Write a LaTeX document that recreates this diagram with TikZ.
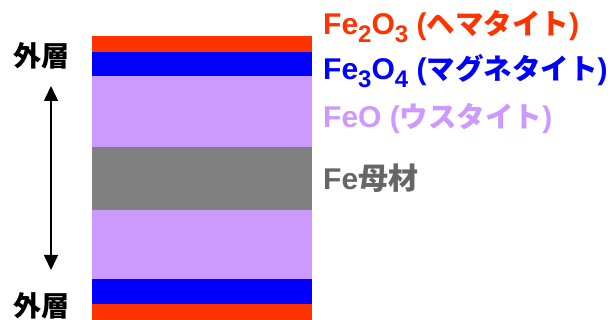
\documentclass[tikz,border=0pt]{standalone}
\usepackage{fontspec}
\usetikzlibrary{arrows.meta}
\setmainfont{Liberation Sans}
\newfontfamily\jpfont{Noto Sans CJK JP}
\newcommand{\lsub}[1]{\raisebox{-8pt}{\fontsize{24}{24}\selectfont #1}}
\newcommand{\jp}[1]{{\jpfont\bfseries #1}}
\newcommand{\jk}[1]{{\jpfont\bfseries\fontsize{28.5}{30}\selectfont #1}}
\definecolor{hema}{HTML}{FF3300}
\definecolor{magn}{HTML}{0000FF}
\definecolor{wust}{HTML}{CC99FF}
\definecolor{feb}{HTML}{808080}
\definecolor{febtext}{HTML}{666666}
\begin{document}
\begin{tikzpicture}[x=1pt,y=-1pt,
  lbl/.style={anchor=base west,inner sep=0pt,font=\fontsize{30}{30}\selectfont\bfseries},
  side/.style={inner sep=0pt,font=\fontsize{28}{28}\selectfont}]
\useasboundingbox (0,0) rectangle (613,320);
\fill[hema] (92,36) rectangle (312,52);
\fill[magn] (92,52) rectangle (312,76);
\fill[wust] (92,76) rectangle (312,147);
\fill[feb] (92,147) rectangle (312,210);
\fill[wust] (92,210) rectangle (312,279);
\fill[magn] (92,279) rectangle (312,304);
\fill[hema] (92,304) rectangle (312,320);
\node[side] (top) at (41,56) {\jp{外層}};
\node[side] (bot) at (41,306) {\jp{外層}};
\coordinate (a1) at (51,86);
\coordinate (a2) at (51,270);
\draw[line width=1.5pt,{Triangle[width=14pt,length=15pt]}-{Triangle[width=14pt,length=15pt]}] (a1) -- (a2);
\node[lbl,text=hema] (l1) at (323,35) {Fe\lsub{2}O\lsub{3} (\jk{ヘマタイト})};
\node[lbl,text=magn] (l2) at (323,80) {Fe\lsub{3}O\lsub{4} (\jk{マグネタイト})};
\node[lbl,text=wust] (l3) at (323,128) {FeO (\jk{ウスタイト})};
\node[lbl,text=febtext] (l4) at (323,190) {Fe\jp{母材}};
\end{tikzpicture}
\end{document}
